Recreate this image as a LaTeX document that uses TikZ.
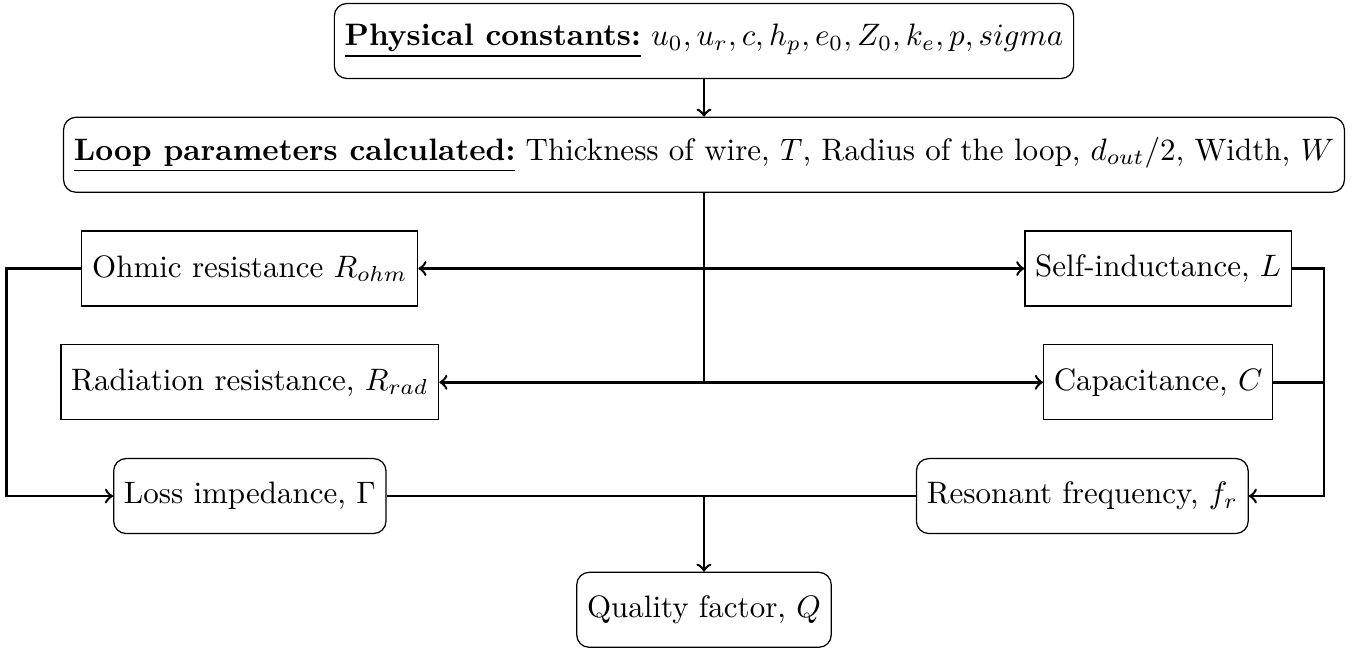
\documentclass[tikz,border=0pt]{standalone}
\usepackage{amssymb}
\usepackage{tikz}
\usetikzlibrary{arrows,calc}
\tikzset{
node distance=1.29cm,
block node/.style={draw,minimum height=0.85cm},
round node/.style={block node,rounded corners},
feed/.style={->,thick},
wire/.style={thick}}

\begin{document}
\begin{tikzpicture}

      \useasboundingbox (-7.983,0.465) rectangle (7.416,-6.906);

      \node[round node] (const) {\underline{\textbf{Physical constants:}} $u_0, u_r, c, h_p, e_0, Z_0, k_e, p, sigma$};
      \node (params) [round node,below of=const] {\underline{\textbf{Loop parameters calculated:}} Thickness of wire, $T$, Radius of the loop, $d_{out}/2$, Width, $W$};
      \coordinate[below of=params] (j1);
      \coordinate[below of=j1] (j2);
      \coordinate[below of=j2] (j3);
      \node (qual) [round node,below of=j3] {Quality factor, $Q$};

      \node (ohm) [block node,left of=j1,node distance=5.15cm] {Ohmic resistance $R_{ohm}$};
      \node (rad) [block node,left of=j2,node distance=5.15cm] {Radiation resistance, $R_{rad}$};
      \node (loss) [round node,left of=j3,node distance=5.15cm] {Loss impedance, $\Gamma$};
      \node (self) [block node,right of=j1,node distance=5.15cm] {Self-inductance, $L$};
      \node (cap) [block node,right of=j2,node distance=5.15cm] {Capacitance, $C$};
      \node (res) [round node,right of=j3,node distance=4.29cm] {Resonant frequency, $f_r$};

      \draw[feed] (const) -- (params);
      \draw[wire] (params) -- (j2);
      \draw[feed] (j1) -- (ohm);
      \draw[feed] (j1) -- (self);
      \draw[feed] (j2) -- (rad);
      \draw[feed] (j2) -- (cap);

      \draw[feed] (ohm.west) -- ++(-0.85,0) |- (loss);
      \draw[feed] (self.east) -- ++(0.36,0) coordinate (rbus) |- (res);
      \draw[wire] (cap.east) -- (cap.east -| rbus);

      \draw[wire] (loss) -- (res);
      \draw[feed] (j3) -- (qual);
\end{tikzpicture}
\end{document}
